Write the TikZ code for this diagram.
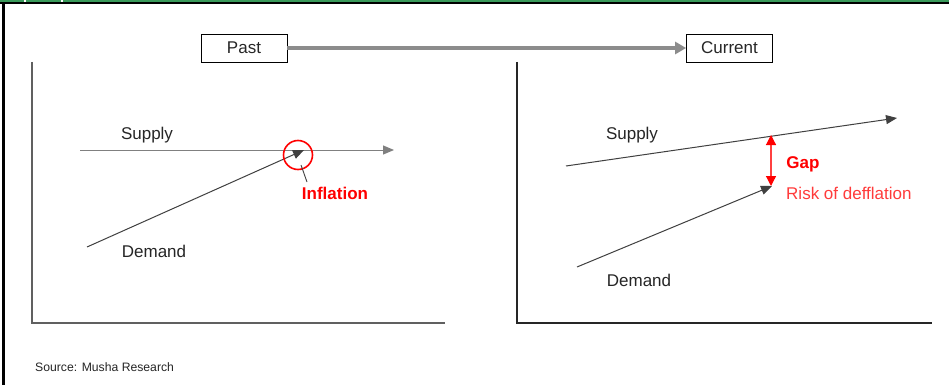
\documentclass[tikz,border=0pt]{standalone}
\usepackage{fontspec}
\setmainfont{Liberation Sans}
\newfontfamily\srcfont{Liberation Sans}
\usetikzlibrary{arrows.meta}
\definecolor{frgreen}{HTML}{3A9A5B}
\definecolor{lineg}{HTML}{404040}
\definecolor{axisg}{HTML}{606060}
\definecolor{riskred}{HTML}{FF3B3B}
\begin{document}
\begin{tikzpicture}[x=1pt,y=-1pt,
  lbl/.style={font=\fontsize{17}{19}\selectfont, text=black!85, inner sep=0pt},
  tbox/.style={draw=black, line width=0.8pt, minimum width=86pt, minimum height=28pt, inner sep=0pt, font=\fontsize{17}{19}\selectfont, text=black!85},
  axisline/.style={draw=axisg, line width=1.3pt},
  curve/.style={draw=lineg, line width=1pt, -{Triangle[length=11pt,width=9pt]}},
  redlbl/.style={font=\fontsize{17}{19}\selectfont, text=red, inner sep=0pt}]
\useasboundingbox (0,0) rectangle (949,385);
\fill[white] (0,0) rectangle (949,385);
% frame
\fill[frgreen] (0,0) rectangle (949,2.5);
\fill[white] (24,0) rectangle (26,2.5);
\fill[white] (61,0) rectangle (63,2.5);
\fill[black] (0,2.5) rectangle (949,4.5);
\fill[black] (2,2.5) rectangle (4.5,385);
% title boxes
\node[tbox] (past) at (244,48) {Past};
\node[tbox] (cur) at (729.5,48) {Current};
\draw[draw=gray!90, line width=4pt, -{Triangle[length=11pt,width=12pt]}] (past.east) -- (cur.west);
% left axes
\coordinate (lt) at (32,62);
\coordinate (lo) at (32,323);
\coordinate (lr) at (445,323);
\draw[axisline] (lt) -- (lo) -- (lr);
% right axes
\coordinate (rt) at (517,62);
\coordinate (ro) at (517,323);
\coordinate (rr) at (932,323);
\draw[axisline, draw=black!85] (rt) -- (ro) -- (rr);
% left curves
\coordinate (ls0) at (80,150);
\coordinate (ls1) at (394,150);
\coordinate (ld0) at (87,247);
\coordinate (ld1) at (304,150);
\draw[curve, draw=gray] (ls0) -- (ls1);
\draw[curve] (ld0) -- (ld1);
\node[lbl] (lsup) at (147,135) {Supply};
\node[lbl] (ldem) at (154,251) {Demand};
\node[draw=red, line width=1.6pt, circle, minimum size=29pt, inner sep=0pt] (circ) at (298,155) {};
\node[redlbl, font=\bfseries\fontsize{17}{19}\selectfont] (infl) at (335,193) {Inflation};
\coordinate (lead0) at (301,165);
\coordinate (lead1) at (307,182);
\draw[lineg, line width=0.9pt] (lead0) -- (lead1);
% right curves
\coordinate (rs0) at (566,166);
\coordinate (rs1) at (897,118);
\coordinate (rd0) at (577,267);
\coordinate (rd1) at (772,186);
\draw[curve] (rs0) -- (rs1);
\draw[curve] (rd0) -- (rd1);
\node[lbl] (rsup) at (632,135) {Supply};
\node[lbl] (rdem) at (639,280) {Demand};
\coordinate (g0) at (771,135);
\coordinate (g1) at (771,186);
\draw[draw=red!75, line width=1.2pt, {Triangle[length=10pt,width=10pt,color=red]}-{Triangle[length=10pt,width=10pt,color=red]}] (g0) -- (g1);
\node[redlbl, font=\bfseries\fontsize{17}{19}\selectfont] (gap) at (803,164) {Gap};
\node[redlbl, text=riskred, anchor=west] (risk) at (786,193) {Risk of defflation};
% source
\node[anchor=west, inner sep=0pt, font=\srcfont\fontsize{12.2}{14}\selectfont, text=black!85] (src) at (35,367) {Source: Musha Research};
\end{tikzpicture}
\end{document}
